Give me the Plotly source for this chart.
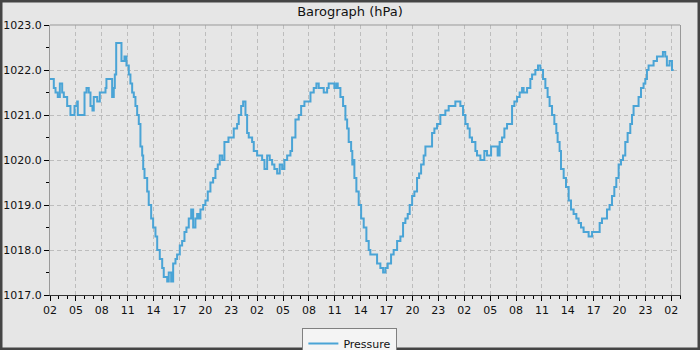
import datetime as dt
import plotly.graph_objects as go

# ---- data ----
series_name = "Pressure"
title_text = "Barograph (hPa)"
start_time = "2024-05-01 02:00"

hours = [0.0, 0.44, 0.64, 0.90, 1.14, 1.41, 1.60, 1.99, 2.37, 2.84, 3.15, 3.22, 3.85, 4.00, 4.23,
         4.49, 4.69, 4.92, 5.07, 5.47, 5.77, 6.23, 6.43, 6.54, 7.01, 7.20, 7.39, 7.51, 7.67, 7.97,
         8.25, 8.28, 8.63, 8.86, 9.13, 9.32, 9.52, 9.71, 9.90, 10.10, 10.29, 10.48, 10.68, 10.80,
         10.95, 11.26, 11.44, 11.72, 11.95, 12.22, 12.42, 12.72, 13.00, 13.18, 13.58, 13.76, 14.04,
         14.27, 14.54, 14.73, 15.04, 15.31, 15.58, 15.81, 16.08, 16.36, 16.59, 16.85, 17.05, 17.24,
         17.43, 17.75, 18.01, 18.28, 18.59, 18.90, 19.17, 19.44, 19.67, 19.95, 20.21, 20.68, 21.29,
         21.68, 21.87, 22.15, 22.38, 22.65, 22.84, 23.03, 23.42, 23.61, 24.00, 24.19, 24.58, 24.85,
         25.16, 25.46, 25.74, 26.00, 26.32, 26.62, 26.90, 27.16, 27.48, 27.86, 28.05, 28.44, 28.82,
         29.10, 29.48, 29.98, 30.18, 30.56, 30.87, 31.14, 31.72, 32.11, 32.29, 32.69, 32.95, 33.19,
         33.34, 33.65, 33.96, 34.23, 34.43, 34.61, 34.89, 35.03, 35.12, 35.27, 35.50, 35.77, 36.05,
         36.35, 36.66, 36.93, 37.12, 37.51, 37.90, 38.28, 38.60, 38.86, 39.13, 39.52, 39.82, 40.22,
         40.60, 40.91, 41.18, 41.45, 41.68, 41.96, 42.22, 42.53, 42.77, 43.00, 43.30, 43.50, 43.88,
         44.27, 44.54, 44.85, 45.23, 45.81, 46.20, 46.59, 46.97, 47.55, 47.86, 48.13, 48.40, 48.63,
         48.90, 49.29, 49.48, 49.87, 50.33, 50.64, 51.11, 51.61, 51.87, 52.10, 52.38, 52.65, 52.96,
         53.34, 53.54, 53.81, 54.12, 54.42, 54.70, 54.88, 55.28, 55.66, 55.86, 56.24, 56.55, 56.82,
         57.13, 57.40, 57.66, 57.89, 58.17, 58.44, 58.67, 58.82, 59.05, 59.21, 59.52, 59.79, 60.10,
         60.37, 60.67, 60.99, 61.25, 61.53, 61.83, 62.41, 62.81, 63.38, 63.69, 63.96, 64.23, 64.54,
         64.84, 65.12, 65.39, 65.62, 65.89, 66.16, 66.40, 66.66, 66.93, 67.24, 67.44, 67.62, 67.94,
         68.20, 68.48, 68.78, 68.98, 69.17, 69.36, 69.75, 69.94, 70.33, 70.71, 71.02, 71.29, 71.48,
         71.79, 72.07, 72.26]

pressure = [1021.8, 1021.6, 1021.5, 1021.4, 1021.7, 1021.5, 1021.4, 1021.2, 1021.0, 1021.2, 1021.3,
            1021.0, 1021.0, 1021.5, 1021.6, 1021.5, 1021.2, 1021.1, 1021.4, 1021.3, 1021.5, 1021.5,
            1021.6, 1021.8, 1021.8, 1021.4, 1021.6, 1021.9, 1022.6, 1022.6, 1022.6, 1022.2, 1022.3,
            1022.1, 1021.9, 1021.7, 1021.5, 1021.4, 1021.2, 1021.0, 1020.8, 1020.3, 1020.1, 1019.8,
            1019.6, 1019.3, 1019.0, 1018.7, 1018.5, 1018.3, 1018.0, 1017.8, 1017.6, 1017.4, 1017.3,
            1017.5, 1017.3, 1017.7, 1017.8, 1017.9, 1018.1, 1018.2, 1018.4, 1018.5, 1018.7, 1018.9,
            1018.5, 1018.7, 1018.8, 1018.7, 1018.9, 1019.0, 1019.1, 1019.3, 1019.5, 1019.6, 1019.8,
            1019.9, 1020.1, 1020.0, 1020.4, 1020.5, 1020.7, 1020.8, 1021.0, 1021.2, 1021.3, 1021.0,
            1020.6, 1020.5, 1020.4, 1020.2, 1020.1, 1020.1, 1020.0, 1019.8, 1020.1, 1020.0, 1019.9,
            1019.8, 1019.7, 1019.9, 1019.8, 1020.0, 1020.1, 1020.2, 1020.5, 1020.9, 1021.0, 1021.2,
            1021.3, 1021.3, 1021.5, 1021.6, 1021.7, 1021.6, 1021.5, 1021.6, 1021.7, 1021.7, 1021.6,
            1021.7, 1021.6, 1021.4, 1021.2, 1020.9, 1020.7, 1020.4, 1020.2, 1019.9, 1020.0, 1019.6,
            1019.3, 1019.0, 1018.7, 1018.5, 1018.2, 1018.0, 1017.9, 1017.9, 1017.7, 1017.6, 1017.5,
            1017.6, 1017.7, 1017.9, 1018.0, 1018.2, 1018.3, 1018.6, 1018.7, 1018.8, 1019.0, 1019.2,
            1019.3, 1019.6, 1019.7, 1019.9, 1020.1, 1020.3, 1020.3, 1020.6, 1020.7, 1020.8, 1021.0,
            1021.1, 1021.2, 1021.2, 1021.3, 1021.2, 1021.0, 1020.8, 1020.7, 1020.5, 1020.4, 1020.2,
            1020.1, 1020.0, 1020.2, 1020.1, 1020.3, 1020.3, 1020.1, 1020.4, 1020.5, 1020.7, 1020.8,
            1020.8, 1021.2, 1021.3, 1021.4, 1021.5, 1021.6, 1021.5, 1021.6, 1021.8, 1021.9, 1022.0,
            1022.1, 1022.0, 1021.8, 1021.6, 1021.4, 1021.2, 1021.0, 1020.8, 1020.6, 1020.4, 1020.2,
            1019.8, 1019.6, 1019.4, 1019.1, 1018.9, 1018.8, 1018.7, 1018.6, 1018.5, 1018.4, 1018.3,
            1018.4, 1018.4, 1018.6, 1018.7, 1018.7, 1018.9, 1019.0, 1019.2, 1019.4, 1019.6, 1019.9,
            1020.0, 1020.1, 1020.4, 1020.6, 1020.8, 1021.0, 1021.2, 1021.2, 1021.4, 1021.6, 1021.7,
            1021.8, 1022.0, 1022.1, 1022.1, 1022.2, 1022.3, 1022.3, 1022.4, 1022.3, 1022.1, 1022.2,
            1022.0, 1022.0]

y_range = [1017.0, 1023.0]
x_span_hours = 73.0

# ---- build ----
base = dt.datetime.strptime(start_time, "%Y-%m-%d %H:%M")
times = [base + dt.timedelta(hours=h) for h in hours]
x_end = base + dt.timedelta(hours=x_span_hours)

BG = "#e6e6e6"
LINE = "#4aa4d6"
FONT = "DejaVu Sans"
GRID_DASH = "4px,3px"

fig = go.Figure()
fig.add_trace(go.Scatter(
    x=times, y=pressure, mode="lines", name=series_name,
    line=dict(color=LINE, width=2, shape="hv"),
    showlegend=True,
))

fig.update_layout(
    width=700, height=350,
    margin=dict(l=50, r=20, t=25, b=55, autoexpand=False),
    paper_bgcolor=BG, plot_bgcolor=BG,
    font=dict(family=FONT, size=11, color="#111111"),
    title=dict(text=title_text, x=0.5, xref="container", xanchor="center",
               y=1 - 11 / 350, yref="container", yanchor="middle",
               font=dict(family=FONT, size=13, color="#111111"), automargin=False),
    showlegend=True,
    legend=dict(orientation="h", x=0.476, xanchor="center", y=-0.122, yanchor="top",
                bgcolor="#f4f4f4", bordercolor="#808080", borderwidth=1,
                font=dict(family=FONT, size=11, color="#111111"),
                itemwidth=30),
)

fig.update_xaxes(
    type="date", range=[base, x_end], automargin=False,
    tick0=base, dtick=3 * 3600 * 1000, tickformat="%H",
    ticks="outside", ticklen=5, tickcolor="#000000",
    showline=True, linecolor="#333333", linewidth=1, mirror=False,
    showgrid=True, gridcolor="#bdbdbd", griddash=GRID_DASH, gridwidth=1,
    zeroline=False,
    minor=dict(dtick=3600 * 1000, ticks="outside", ticklen=3, tickcolor="#000000", showgrid=False),
    tickfont=dict(family=FONT, size=11, color="#111111"),
)
fig.update_yaxes(
    range=y_range, dtick=1.0, tickformat=".1f", automargin=False,
    ticks="outside", ticklen=5, tickcolor="#000000",
    showline=True, linecolor="#999999", linewidth=1, mirror=True,
    showgrid=True, gridcolor="#bdbdbd", griddash=GRID_DASH, gridwidth=1,
    zeroline=False,
    minor=dict(dtick=0.5, ticks="outside", ticklen=3, tickcolor="#000000", showgrid=False),
    tickfont=dict(family=FONT, size=11, color="#111111"),
)

# top border of the plot box (grey)
fig.add_shape(type="line", xref="paper", yref="paper", x0=0, x1=1, y0=1, y1=1,
              line=dict(color="#999999", width=1))
# dark frame around the whole image
fig.add_shape(type="rect", xref="paper", yref="paper",
              x0=-50 / 630, x1=1 + 20 / 630, y0=-55 / 270, y1=1 + 25 / 270,
              line=dict(color="#444444", width=5), fillcolor="rgba(0,0,0,0)")

fig.write_html("out.html",
               config={"displayModeBar": False},
               post_script="document.body.style.margin='0px';document.body.style.padding='0px';")
